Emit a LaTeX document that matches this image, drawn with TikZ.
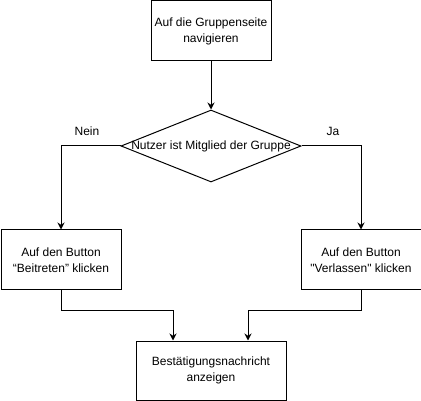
\documentclass[tikz,border=0pt]{standalone}
\usepackage{fontspec}
\setmainfont{Liberation Sans}
\newfontfamily\straightfont[Ligatures=TeXOff]{Liberation Sans}
\usetikzlibrary{arrows.meta,shapes.geometric}
\tikzset{
	stepbox/.style={draw, line width=1pt, minimum width=120pt, minimum height=60pt, inner sep=0pt, align=center, font=\fontsize{12}{16}\selectfont},
	decide/.style={draw, diamond, line width=1pt, minimum width=180pt, minimum height=72pt, inner sep=0pt, font=\fontsize{12}{16}\selectfont},
	flow/.style={line width=1pt, -{Stealth[length=7pt,width=7pt]}},
	answer/.style={font=\fontsize{12}{16}\selectfont}
}

\begin{document}
\begin{tikzpicture}[x=1pt, y=-1pt]
		%%%%% START %%%%%
		\useasboundingbox (0, 0) rectangle (421, 401);
		
		\node[stepbox] (navigate) at (211, 31) {Auf die Gruppenseite\\navigieren};
		\node[decide] (member) at (211, 146) {\makebox[0pt]{Nutzer ist Mitglied der Gruppe}};
		
		\node[stepbox] (join) at (61, 260) {Auf den Button\\“Beitreten” klicken};
		\node[stepbox] (leave) at (361, 260) {Auf den Button\\{\straightfont "Verlassen" klicken}};
		
		\node[stepbox, minimum width=150pt, minimum height=59pt] (confirm) at (211, 370.5) {Bestätigungsnachricht\\anzeigen};
		
		\node[answer] (no) at (87, 131) {Nein};
		\node[answer] (yes) at (333, 131) {Ja};
		
		\draw[flow] (navigate) -- (member);
		\draw[flow] (member.west) -| (join.north);
		\draw[flow] (member.east) -| (leave.north);
		
		\draw[flow] (join.south) -- ++(0, 20) -| ([xshift=-38pt]confirm.north);
		\draw[flow] (leave.south) -- ++(0, 20) -| ([xshift=37pt]confirm.north);
		
		%%%%% END %%%%%
	\end{tikzpicture}
\end{document}
